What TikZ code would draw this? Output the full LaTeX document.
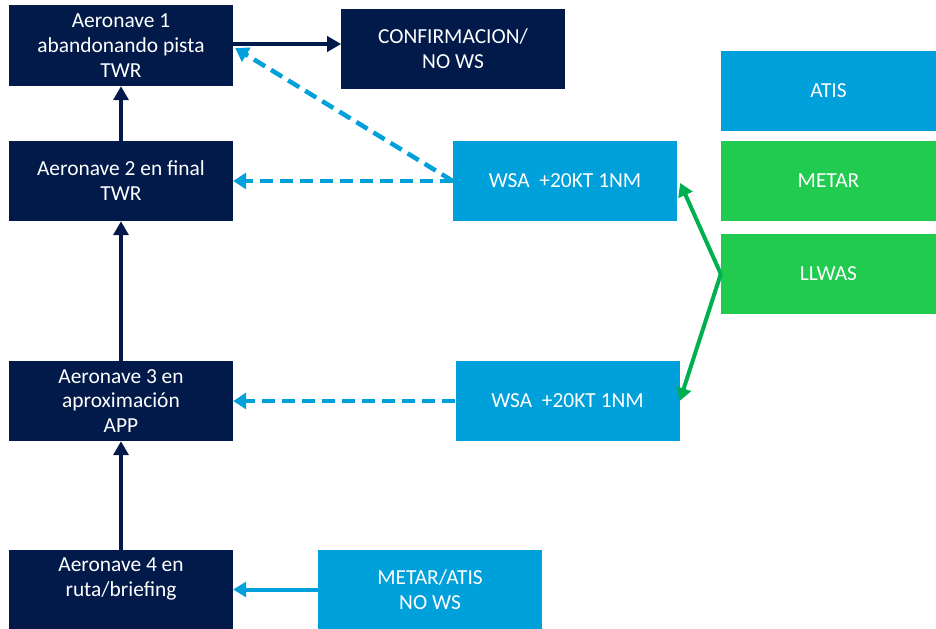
\documentclass[tikz,border=0pt]{standalone}
\usepackage{fontspec}
\setmainfont{Carlito}
\usepackage{xcolor}
\usetikzlibrary{positioning,calc,arrows.meta}

\definecolor{navy}{HTML}{021A4A}
\definecolor{skyblue}{HTML}{00A0DA}
\definecolor{lightgreen}{HTML}{21CB4F}
\definecolor{arrowgreen}{HTML}{00B050}

\begin{document}
\begin{tikzpicture}[x=1bp, y=-1bp,
   box/.style={minimum width=224bp, minimum height=80bp, inner sep=0pt, align=center,
      text=white, font=\fontsize{21.5}{25}\selectfont},
   navybox/.style={box, fill=navy},
   bluebox/.style={box, fill=skyblue},
   greenbox/.style={box, fill=lightgreen, minimum width=215bp},
   navyarrow/.style={draw=navy, line width=4.5bp, -{Triangle[length=14bp,width=15bp]}},
   dasharrow/.style={draw=skyblue, line width=4.5bp, dash pattern=on 13bp off 7bp,
      -{Triangle[length=13bp,width=16bp]}},
   bluearrow/.style={draw=skyblue, line width=4bp, -{Triangle[length=13bp,width=15bp]}},
   greenarrow/.style={draw=arrowgreen, line width=4bp, -{Triangle[length=13bp,width=15bp]}}]
   \useasboundingbox (0,0) rectangle (936,629);

   % Aeronaves
   \node[navybox, minimum height=81bp] (a1) at (121,45.5) {Aeronave 1\\abandonando pista\\TWR};
   \node[navybox] (a2) at (121,181) {Aeronave 2 en final\\TWR};
   \node[navybox] (a3) at (121,401) {Aeronave 3 en\\aproximación\\APP};
   \node[navybox, minimum height=79bp] (a4) at (121,589.5) {Aeronave 4 en\\ruta/briefing\\~};

   % Avisos
   \node[navybox] (conf) at (453,49) {CONFIRMACION/\\NO WS};
   \node[bluebox] (wsa1) at (565,181) {WSA~~+20KT 1NM};
   \node[bluebox] (wsa2) at (567.5,401) {WSA~~+20KT 1NM};
   \node[bluebox, minimum height=79bp] (metatis) at (430,589.5) {METAR/ATIS\\NO WS};

   % Fuentes
   \node[bluebox, minimum width=215bp] (atis) at (828.5,91) {ATIS};
   \node[greenbox] (metar) at (828.5,181) {METAR};
   \node[greenbox] (llwas) at (828.5,274) {LLWAS};

   % Flechas
   \draw[navyarrow] ($(a1.east)+(0,-1.5)$) -- ($(a1.east)+(108,-1.5)$);
   \draw[navyarrow] (a2) -- (a1);
   \draw[navyarrow] (a3) -- (a2);
   \draw[navyarrow] (a4) -- (a3);
   \draw[dasharrow] (wsa1.west) -- ($(a1.east)+(2,2.5)$);
   \draw[dasharrow] (wsa1.west) -- (a2.east);
   \draw[dasharrow] (wsa2.west) -- (a3.east);
   \draw[bluearrow] (metatis.west) -- (a4.east);
   \draw[greenarrow] (llwas.west) -- ($(wsa1.east)+(3,2)$);
   \draw[greenarrow] (llwas.west) -- (wsa2.east);

\end{tikzpicture}
\end{document}
